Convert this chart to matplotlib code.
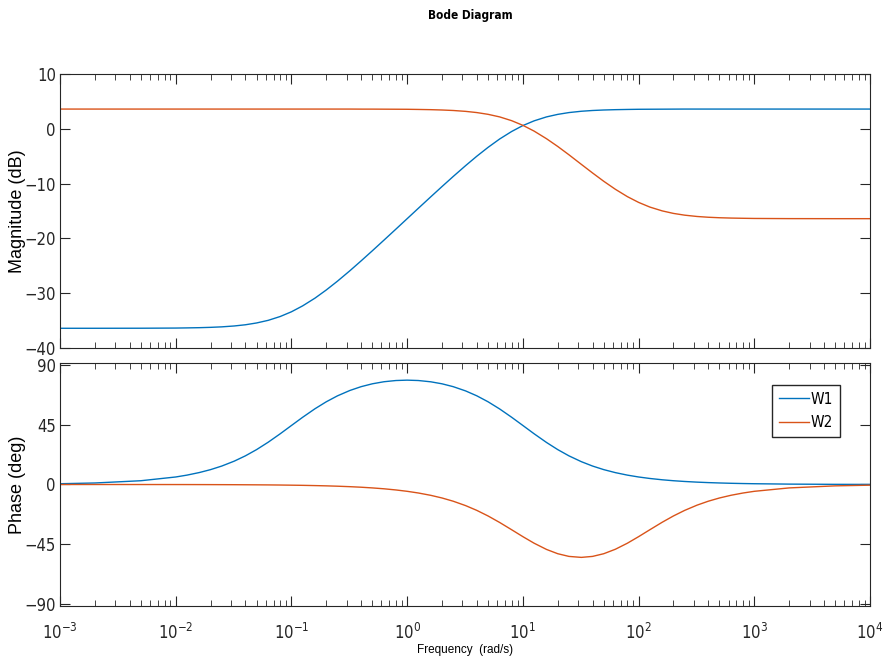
import matplotlib
matplotlib.use("Agg")
import matplotlib.pyplot as plt
from matplotlib.ticker import LogLocator, NullFormatter, FixedLocator

# frequency grid (rad/s)
freq = [0.001, 0.002, 0.005,
        0.01, 0.0125, 0.016, 0.02, 0.025, 0.032, 0.04, 0.05, 0.063, 0.08,
        0.1, 0.125, 0.16, 0.2, 0.25, 0.32, 0.4, 0.5, 0.63, 0.8,
        1, 1.25, 1.6, 2, 2.5, 3.2, 4, 5, 6.3, 8,
        10, 12.5, 16, 20, 25, 32, 40, 50, 63, 80,
        100, 125, 160, 200, 250, 320, 400, 500, 630, 800,
        1000, 2000, 5000, 10000]

# magnitude (dB)
w1_mag = [-36.4, -36.4, -36.39,
          -36.36, -36.33, -36.29, -36.23, -36.14, -35.98, -35.76, -35.43, -34.95, -34.25,
          -33.39, -32.31, -30.89, -29.41, -27.80, -25.90, -24.10, -22.26, -20.32, -18.30,
          -16.40, -14.50, -12.41, -10.54, -8.70, -6.72, -5.00, -3.39, -1.86, -0.49,
          0.59, 1.45, 2.17, 2.63, 2.96, 3.20, 3.34, 3.43, 3.49, 3.53,
          3.56, 3.57, 3.58, 3.59, 3.6, 3.6, 3.6, 3.6, 3.6, 3.6,
          3.6, 3.6, 3.6, 3.6]
w2_mag = [3.6, 3.6, 3.6,
          3.6, 3.6, 3.6, 3.6, 3.6, 3.6, 3.6, 3.6, 3.6, 3.6,
          3.6, 3.6, 3.6, 3.6, 3.6, 3.6, 3.59, 3.59, 3.58, 3.57,
          3.56, 3.53, 3.49, 3.43, 3.34, 3.18, 2.96, 2.64, 2.17, 1.48,
          0.63, -0.42, -1.81, -3.22, -4.74, -6.49, -8.06, -9.58, -11.04, -12.38,
          -13.43, -14.28, -14.98, -15.44, -15.76, -16.00, -16.14, -16.23, -16.29, -16.33,
          -16.36, -16.39, -16.4, -16.4]

# phase (deg)
w1_phase = [0.57, 1.13, 2.83,
            5.65, 7.05, 9.00, 11.19, 13.89, 17.56, 21.57, 26.28, 31.85, 38.20,
            44.43, 50.62, 57.08, 62.29, 66.77, 70.81, 73.67, 75.83, 77.38, 78.30,
            78.58, 78.30, 77.33, 75.83, 73.67, 70.47, 66.77, 62.29, 56.88, 50.62,
            44.43, 38.20, 31.65, 26.28, 21.57, 17.18, 13.89, 11.19, 8.93, 7.05,
            5.65, 4.53, 3.54, 2.83, 2.27, 1.77, 1.42, 1.14, 0.90, 0.71,
            0.57, 0.28, 0.11, 0.06]
w2_phase = [-0.01, -0.01, -0.03,
            -0.05, -0.06, -0.08, -0.10, -0.13, -0.16, -0.21, -0.26, -0.32, -0.41,
            -0.52, -0.64, -0.83, -1.03, -1.29, -1.65, -2.06, -2.58, -3.24, -4.12,
            -5.14, -6.41, -8.17, -10.16, -12.60, -15.91, -19.51, -23.70, -28.61, -34.09,
            -39.29, -44.22, -48.91, -52.13, -54.16, -54.90, -54.16, -52.13, -48.77, -44.22,
            -39.29, -34.09, -28.43, -23.70, -19.51, -15.56, -12.60, -10.16, -8.11, -6.41,
            -5.14, -2.58, -1.03, -0.52]

labels = ["W1", "W2"]
blue = "#0072BD"
orange = "#D95319"

plt.rcParams["font.family"] = ["DejaVu Sans"]
plt.rcParams["font.stretch"] = "condensed"

fig = plt.figure(figsize=(8.85, 6.63), dpi=100)
ax1 = fig.add_axes([0.0678, 0.4751, 0.9153, 0.4133])
ax2 = fig.add_axes([0.0678, 0.0860, 0.9153, 0.3665])

ax1.plot(freq, w1_mag, color=blue, lw=1.0)
ax1.plot(freq, w2_mag, color=orange, lw=1.0)
ax2.plot(freq, w1_phase, color=blue, lw=1.0, label=labels[0])
ax2.plot(freq, w2_phase, color=orange, lw=1.0, label=labels[1])

for ax in (ax1, ax2):
    ax.set_xscale("log")
    ax.set_xlim(1e-3, 1e4)
    ax.xaxis.set_major_locator(LogLocator(base=10, numticks=20))
    ax.xaxis.set_minor_locator(LogLocator(base=10, subs=range(2, 10), numticks=20))
    ax.xaxis.set_minor_formatter(NullFormatter())
    ax.tick_params(which="both", direction="in", top=True, right=True,
                   colors="#262626", labelsize=12)
    ax.tick_params(which="major", length=7, width=0.8, pad=3)
    ax.tick_params(which="minor", length=4, width=0.6)
    for s in ax.spines.values():
        s.set_color("#262626")
        s.set_linewidth(0.8)

ax1.set_ylim(-40, 10)
ax1.yaxis.set_major_locator(FixedLocator([-40, -30, -20, -10, 0, 10]))
ax1.tick_params(labelbottom=False)
ax1.set_ylabel("Magnitude (dB)", fontsize=13, family="Liberation Sans")
ax1.yaxis.set_label_coords(-0.042, 0.5)

ax2.set_ylim(-91.5, 91.5)
ax2.yaxis.set_major_locator(FixedLocator([-90, -45, 0, 45, 90]))
ax2.set_ylabel("Phase (deg)", fontsize=13, family="Liberation Sans")
ax2.yaxis.set_label_coords(-0.042, 0.5)
ax2.tick_params(axis="x", which="major", pad=12)

ax2.legend(loc="upper left", bbox_to_anchor=(0.879, 0.91), borderaxespad=0,
           fancybox=False, edgecolor="#262626", framealpha=1, fontsize=11,
           handlelength=2.0, handletextpad=0.1, borderpad=0.45, labelspacing=0.55)

fig.text(0.531, 0.977, "Bode Diagram", ha="center", va="center",
         fontsize=8.5, fontweight="bold")
fig.text(0.525, 0.019, "Frequency  (rad/s)", ha="center", va="center",
         fontsize=8.5, family="Liberation Sans")

fig.savefig("out.png", dpi=100)
